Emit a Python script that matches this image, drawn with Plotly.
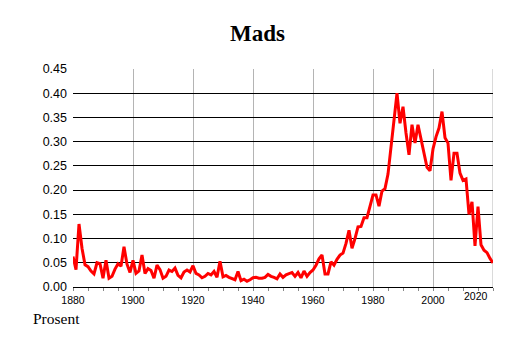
import plotly.graph_objects as go

years = list(range(1880, 2021))
values = [
    # 1880-1899
    0.063, 0.036, 0.130, 0.080, 0.046, 0.042, 0.033, 0.027, 0.050, 0.048,
    0.018, 0.055, 0.018, 0.022, 0.037, 0.048, 0.043, 0.083, 0.047, 0.030,
    # 1900-1919
    0.055, 0.028, 0.033, 0.066, 0.028, 0.038, 0.034, 0.018, 0.045, 0.036,
    0.018, 0.022, 0.035, 0.032, 0.039, 0.024, 0.019, 0.031, 0.035, 0.031,
    # 1920-1939
    0.044, 0.028, 0.025, 0.019, 0.022, 0.028, 0.025, 0.032, 0.020, 0.053,
    0.021, 0.024, 0.020, 0.018, 0.015, 0.032, 0.013, 0.016, 0.012, 0.015,
    # 1940-1959
    0.019, 0.020, 0.018, 0.018, 0.020, 0.026, 0.022, 0.020, 0.017, 0.027,
    0.020, 0.025, 0.027, 0.030, 0.022, 0.030, 0.019, 0.033, 0.022, 0.030,
    # 1960-1979
    0.035, 0.045, 0.058, 0.066, 0.027, 0.027, 0.052, 0.045, 0.057, 0.066,
    0.070, 0.090, 0.117, 0.080, 0.100, 0.124, 0.125, 0.143, 0.143, 0.168,
    # 1980-1999
    0.190, 0.190, 0.167, 0.198, 0.203, 0.233, 0.290, 0.355, 0.400, 0.338,
    0.372, 0.318, 0.273, 0.335, 0.297, 0.335, 0.306, 0.280, 0.247, 0.240,
    # 2000-2020
    0.285, 0.310, 0.328, 0.362, 0.308, 0.297, 0.220, 0.276, 0.276, 0.235,
    0.220, 0.223, 0.150, 0.176, 0.085, 0.166, 0.087, 0.076, 0.071, 0.059,
    0.050,
]

title_text = "Mads"
y_label = "Prosent"
x_ticks = [1880, 1900, 1920, 1940, 1960, 1980, 2000]
y_ticks = [0.0, 0.05, 0.10, 0.15, 0.20, 0.25, 0.30, 0.35, 0.40, 0.45]

fig = go.Figure()
fig.add_trace(go.Scatter(
    x=years, y=values, mode="lines",
    line=dict(color="#ff0000", width=3),
    hoverinfo="skip", showlegend=False,
))

fig.update_layout(
    width=514, height=343,
    margin=dict(l=73, r=21, t=69, b=56),
    paper_bgcolor="white", plot_bgcolor="white",
    xaxis=dict(
        range=[1880, 2020],
        tickvals=x_ticks,
        ticktext=[str(v) for v in x_ticks],
        showgrid=True, gridcolor="#b4b4b4", gridwidth=1,
        showline=True, linecolor="black", linewidth=1,
        ticks="outside", ticklen=3, tickcolor="#888888",
        minor=dict(dtick=5, tick0=1880, ticks="outside", ticklen=3,
                   tickcolor="#888888", showgrid=False),
        tickfont=dict(family="Liberation Sans, Arial", size=10.5, color="black"),
        zeroline=False, fixedrange=True,
    ),
    yaxis=dict(
        range=[0, 0.45],
        tickvals=y_ticks,
        tickformat=".2f",
        showgrid=True, gridcolor="black", gridwidth=1,
        showline=False, ticks="", zeroline=False,
        ticklabelstandoff=5,
        tickfont=dict(family="Liberation Sans, Arial", size=12.5, color="black"),
        fixedrange=True,
    ),
    annotations=[
        dict(text="<b>" + title_text + "</b>", x=0.5, y=33, xref="paper", yref="paper",
             showarrow=False, font=dict(family="Liberation Serif, Times New Roman", size=23, color="black"),
             xanchor="center", yanchor="middle"),
        dict(text=y_label, x=0, y=0, xref="paper", yref="paper",
             showarrow=False, font=dict(family="Liberation Serif, Times New Roman", size=15.5, color="black"),
             xanchor="left", yanchor="middle"),
        dict(text="2020", x=2020, y=0, xref="x", yref="paper",
             showarrow=False, font=dict(family="Liberation Sans, Arial", size=10.5, color="black"),
             xanchor="right", yanchor="top", xshift=-3, yshift=-1),
    ],
    shapes=[
        dict(type="line", xref="x", yref="paper", x0=2020, x1=2020, y0=0, y1=1,
             line=dict(color="#b4b4b4", width=1), layer="below"),
    ],
)

# place title and y-label in pixel terms via paper fractions
plot_h = 343 - 69 - 56
plot_w = 514 - 73 - 21
fig.layout.annotations[0].y = (343 - 56 - 33) / plot_h
fig.layout.annotations[0].x = (257 - 73) / plot_w
fig.layout.annotations[1].y = (287 - 318) / plot_h
fig.layout.annotations[1].x = (31 - 73) / plot_w

fig.write_html("out.html")
